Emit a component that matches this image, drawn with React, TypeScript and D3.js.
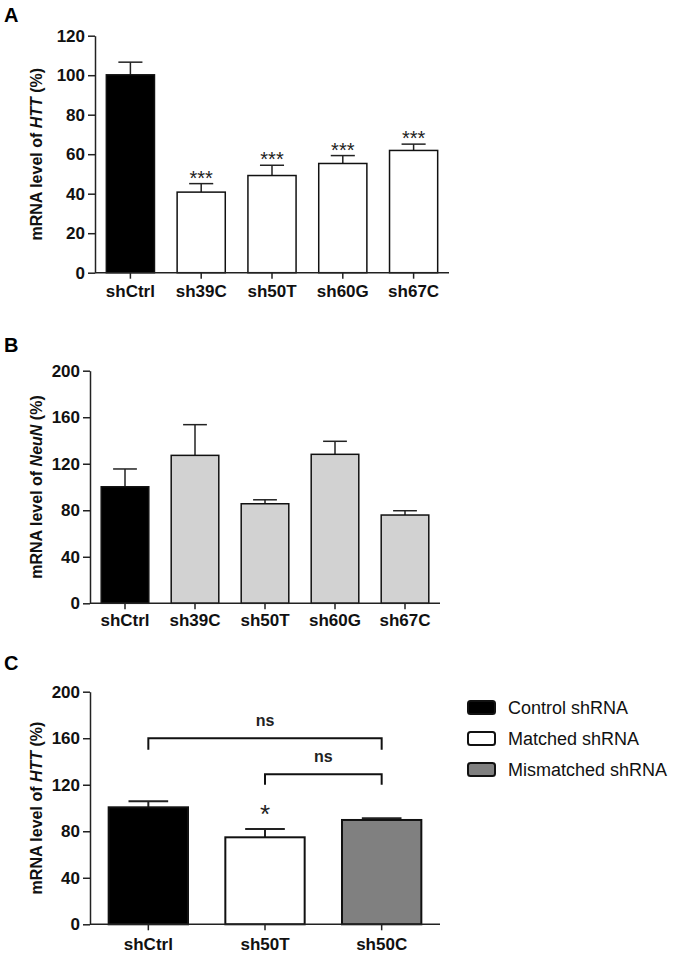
import React, { useRef, useEffect } from "react";
import * as d3 from "d3";

// panel A - HTT knockdown
const catsA = ["shCtrl", "sh39C", "sh50T", "sh60G", "sh67C"];
const httMeansA = [100.2, 40.8, 49.2, 55.3, 61.9];
const httErrA = [6.4, 4.3, 5.2, 4.0, 3.2];
const httStarsA = ["", "***", "***", "***", "***"];
const ticksA = [0, 20, 40, 60, 80, 100, 120];

// panel B - NeuN
const catsB = ["shCtrl", "sh39C", "sh50T", "sh60G", "sh67C"];
const neunMeans = [100.2, 127.2, 85.6, 128.1, 75.9];
const neunErr = [15.3, 26.4, 3.4, 11.2, 3.7];
const ticksB = [0, 40, 80, 120, 160, 200];

// panel C - matched vs mismatched
const catsC = ["shCtrl", "sh50T", "sh50C"];
const httMeansC = [100.6, 74.8, 89.7];
const httErrC = [5.2, 7.1, 1.4];
const httStarsC = ["", "*", ""];
const ticksC = [0, 40, 80, 120, 160, 200];
// brackets: from, to, level, leg end, label
const bracketFrom = ["shCtrl", "sh50T"];
const bracketTo = ["sh50C", "sh50C"];
const bracketLevel = [160, 129];
const bracketLeg = [150, 120];
const bracketLabel = ["ns", "ns"];

const legendLabels = ["Control shRNA", "Matched shRNA", "Mismatched shRNA"];
const legendColors = ["#000000", "#ffffff", "#808080"];

const FONT = "'Liberation Sans', Arial, Helvetica, sans-serif";

const App = () => {
    const svgRef = useRef(null);

    useEffect(() => {
        const svg = d3.select(svgRef.current);
        svg.selectAll("*").remove();

        const drawPanel = (opts) => {
            const g = svg.append("g");
            const x = d3.scaleBand().domain(opts.cats).range([opts.left, opts.right]).paddingInner(0.32).paddingOuter(0.16);
            const y = d3.scaleLinear().domain([0, opts.max]).range([opts.bottom, opts.top]);

            // panel letter
            g.append("text")
                .attr("x", 4)
                .attr("y", opts.letterY)
                .text(opts.letter)
                .style("font-family", FONT)
                .style("font-weight", "bold")
                .style("font-size", "20px");

            // bars
            opts.cats.forEach((c, i) => {
                const v = opts.means[i];
                const e = opts.errs[i];
                const cx = x(c) + x.bandwidth() / 2;
                const capW = x.bandwidth() / 4;
                g.append("line")
                    .attr("x1", cx).attr("x2", cx)
                    .attr("y1", y(v)).attr("y2", y(v + e))
                    .attr("stroke", "#222").attr("stroke-width", opts.sw);
                g.append("line")
                    .attr("x1", cx - capW).attr("x2", cx + capW)
                    .attr("y1", y(v + e)).attr("y2", y(v + e))
                    .attr("stroke", "#222").attr("stroke-width", opts.sw);
                g.append("rect")
                    .attr("x", x(c))
                    .attr("y", y(v))
                    .attr("width", x.bandwidth())
                    .attr("height", y(0) - y(v))
                    .attr("fill", opts.colors[i])
                    .attr("stroke", "#111")
                    .attr("stroke-width", opts.sw);
                if (opts.stars && opts.stars[i]) {
                    g.append("text")
                        .attr("x", cx)
                        .attr("y", y(v + e) - opts.starGap)
                        .attr("text-anchor", "middle")
                        .text(opts.stars[i])
                        .style("font-family", FONT)
                        .style("font-size", opts.starSize + "px")
                        .style("fill", "#222");
                }
            });

            // y axis
            const ya = g.append("g")
                .attr("transform", `translate(${opts.left},0)`)
                .call(d3.axisLeft(y).tickValues(opts.ticks).tickSize(7).tickSizeOuter(0).tickPadding(3));
            // x axis
            const xa = g.append("g")
                .attr("transform", `translate(0,${opts.bottom})`)
                .call(d3.axisBottom(x).tickSize(6).tickSizeOuter(0).tickPadding(opts.xPad));
            xa.select(".domain").attr("d", `M0,0H${opts.right - opts.left}`).attr("transform", `translate(${opts.left},0)`);
            [ya, xa].forEach((a) => {
                a.selectAll("path, line").attr("stroke", "#222").attr("stroke-width", 1.5);
                a.selectAll("text")
                    .style("font-family", FONT)
                    .style("font-weight", "bold")
                    .style("font-size", "17px")
                    .style("fill", "#111");
            });

            // y label
            const lbl = g.append("text")
                .attr("transform", `translate(36,${(opts.top + opts.bottom) / 2}) rotate(-90)`)
                .attr("text-anchor", "middle")
                .attr("dy", "0.35em")
                .style("font-family", FONT)
                .style("font-weight", "bold")
                .style("font-size", "16px")
                .style("fill", "#111");
            lbl.append("tspan").text("mRNA level of ");
            lbl.append("tspan").style("font-style", "italic").text(opts.gene);
            lbl.append("tspan").text(" (%)");

            return { x, y, g };
        };

        drawPanel({
            letter: "A", letterY: 22, cats: catsA, means: httMeansA, errs: httErrA, stars: httStarsA,
            ticks: ticksA, max: 120, left: 95, right: 449, top: 35.7, bottom: 272.7,
            colors: ["#000", "#fff", "#fff", "#fff", "#fff"], gene: "HTT", sw: 1.5,
            starGap: -1, starSize: 20, xPad: 6
        });

        drawPanel({
            letter: "B", letterY: 352, cats: catsB, means: neunMeans, errs: neunErr,
            ticks: ticksB, max: 200, left: 90, right: 440, top: 370.7, bottom: 603.3,
            colors: ["#000", "#d2d2d2", "#d2d2d2", "#d2d2d2", "#d2d2d2"], gene: "NeuN", sw: 1.5, xPad: 5
        });

        const pc = drawPanel({
            letter: "C", letterY: 670, cats: catsC, means: httMeansC, errs: httErrC, stars: httStarsC,
            ticks: ticksC, max: 200, left: 90, right: 440, top: 691.7, bottom: 924.3,
            colors: legendColors, gene: "HTT", sw: 2, starGap: 6, starSize: 26, xPad: 8
        });

        // significance brackets
        bracketFrom.forEach((f, i) => {
            const x1 = pc.x(f) + pc.x.bandwidth() / 2;
            const x2 = pc.x(bracketTo[i]) + pc.x.bandwidth() / 2;
            const yl = pc.y(bracketLevel[i]);
            const yb = pc.y(bracketLeg[i]);
            pc.g.append("path")
                .attr("d", `M${x1},${yb}V${yl}H${x2}V${yb}`)
                .attr("fill", "none")
                .attr("stroke", "#111")
                .attr("stroke-width", 2);
            pc.g.append("text")
                .attr("x", (x1 + x2) / 2)
                .attr("y", yl - 12)
                .attr("text-anchor", "middle")
                .text(bracketLabel[i])
                .style("font-family", FONT)
                .style("font-weight", "bold")
                .style("font-size", "16px")
                .style("fill", "#222");
        });

        // legend
        const leg = svg.append("g");
        legendLabels.forEach((l, i) => {
            const yy = 707.5 + i * 31;
            leg.append("rect")
                .attr("x", 468)
                .attr("y", yy - 6.5)
                .attr("width", 27)
                .attr("height", 13)
                .attr("rx", 2.5)
                .attr("fill", legendColors[i])
                .attr("stroke", "#111")
                .attr("stroke-width", 2);
            leg.append("text")
                .attr("x", 508)
                .attr("y", yy)
                .attr("dy", "0.35em")
                .text(l)
                .style("font-family", FONT)
                .style("font-size", "18px")
                .style("fill", "#111");
        });
    }, []);

    return (
        <svg ref={svgRef} width={679} height={955}
            style={{ position: "absolute", left: 0, top: 0, background: "#fff" }} />
    );
};

export default App;
